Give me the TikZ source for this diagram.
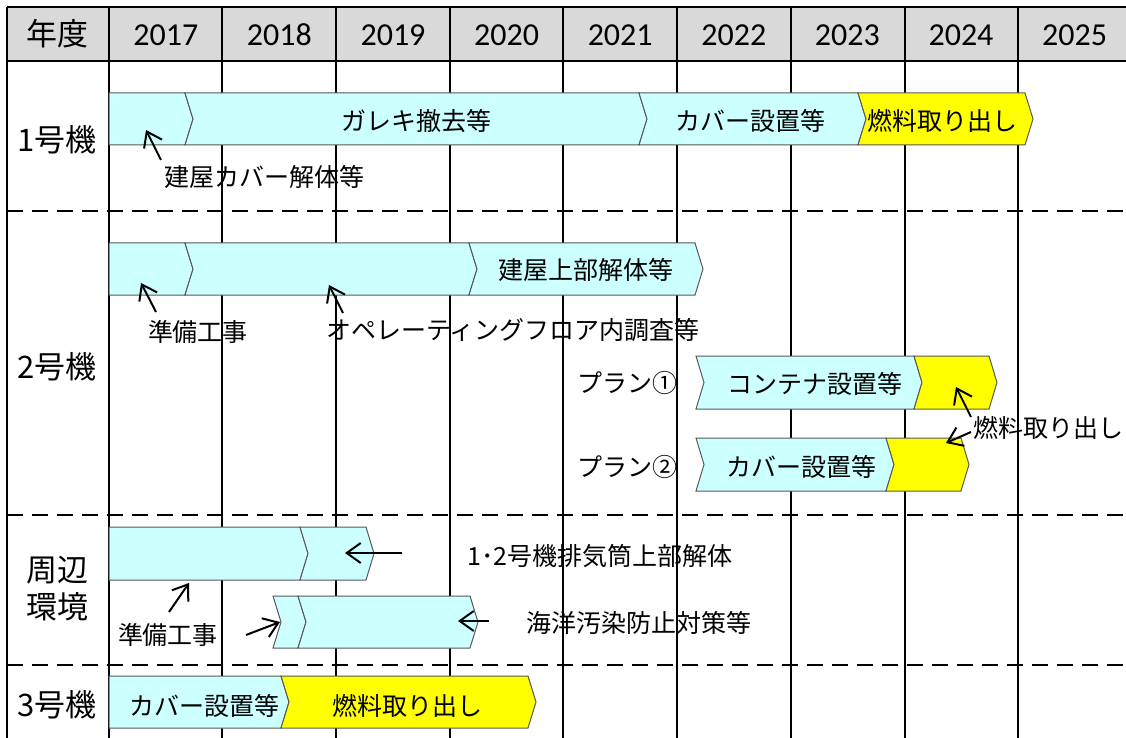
\documentclass[tikz,border=0pt]{standalone}
\usepackage{fontspec}
\setmainfont{Noto Sans CJK JP}
\newfontfamily\yearfont{Carlito}
\usetikzlibrary{arrows.meta}
\definecolor{barcyan}{HTML}{CCFFFF}
\definecolor{baryellow}{HTML}{FFFF00}
\definecolor{headgray}{HTML}{D9D9D9}
\tikzset{
  segline/.style={draw=black!65,line width=0.5pt},
  gridline/.style={line width=1.3pt},
  rowsep/.style={line width=1.3pt,dash pattern=on 8pt off 4.5pt},
  pointer/.style={-{Straight Barb[length=7pt,width=10pt]},line width=1pt},
  bartext/.style={font=\fontsize{12.5}{15}\selectfont,inner sep=0pt},
  rowlabel/.style={font=\fontsize{15.5}{18.5}\selectfont,inner sep=0pt,align=center}
}
\newcommand\chevseg[6]{\filldraw[segline,fill=#5] (#1,#3) -- (#2,#3) -- ({#2+8},{(#3+#4)/2}) -- (#2,#4) -- (#1,#4) -- ({#1+#6},{(#3+#4)/2}) -- cycle;}
\begin{document}
\begin{tikzpicture}[x=0.5pt,y=-0.5pt]
                \useasboundingbox (0,0) rectangle (1126,738);
                \fill[headgray] (7,7) rectangle (1126,61);
                \draw[gridline] (7,7) -- (1126,7) (7,61) -- (1126,61);
                \foreach \xx in {7,109,222,336,450,563,677,791,905,1018}
                    \draw[gridline] (\xx,7) -- (\xx,738);
                \foreach \yy in {211,515,665}
                    \draw[rowsep] (7,\yy) -- (1126,\yy);
                \node[rowlabel] (head) at (57,34) {年度};
                \foreach \yr [count=\i] in {2017,...,2025}
                    \node[font=\yearfont\fontsize{16}{19}\selectfont] (y\yr) at ({109+113.6*(\i-0.5)},35) {\yr};
                \node[rowlabel] (unit1) at (57,140) {1号機};
                \node[rowlabel] (unit2) at (57,367) {2号機};
                \node[rowlabel] (envr) at (57,589) {周辺\\環境};
                \node[rowlabel] (unit3) at (57,705) {3号機};
                \chevseg{109}{185}{93}{145}{barcyan}{0}
                \chevseg{185}{639}{93}{145}{barcyan}{8}
                \chevseg{639}{858}{93}{145}{barcyan}{8}
                \chevseg{858}{1025}{93}{145}{baryellow}{8}
                \chevseg{109}{185}{243}{295}{barcyan}{0}
                \chevseg{185}{469}{243}{295}{barcyan}{8}
                \chevseg{469}{695}{243}{295}{barcyan}{8}
                \chevseg{696}{914}{356}{409}{barcyan}{8}
                \chevseg{914}{989}{356}{409}{baryellow}{8}
                \chevseg{696}{886}{438}{491}{barcyan}{8}
                \chevseg{886}{961}{438}{491}{baryellow}{8}
                \chevseg{109}{300}{527}{580}{barcyan}{0}
                \chevseg{300}{366}{527}{580}{barcyan}{8}
                \chevseg{273}{298}{596}{648}{barcyan}{8}
                \chevseg{298}{470}{596}{648}{barcyan}{8}
                \chevseg{109}{281}{676}{728}{barcyan}{0}
                \chevseg{281}{528}{676}{728}{baryellow}{8}
                \node[bartext] (debris1) at (416,121) {ガレキ撤去等};
                \node[bartext] (cover1) at (750,121) {カバー設置等};
                \node[bartext] (fuel1) at (942,121) {燃料取り出し};
                \node[bartext] (dism1) at (264,177) {建屋カバー解体等};
                \node[bartext] (dism2) at (586,270) {建屋上部解体等};
                \node[bartext] (prep2) at (198,332) {準備工事};
                \node[bartext] (floor2) at (513,330) {オペレーティングフロア内調査等};
                \node[bartext] (plan1) at (627,383) {プラン①};
                \node[bartext] (plan2) at (627,467) {プラン②};
                \node[bartext] (cont2) at (815,384) {コンテナ設置等};
                \node[bartext] (cover2) at (801,467) {カバー設置等};
                \node[bartext] (fuel2) at (1048,428) {燃料取り出し};
                \node[bartext] (stack) at (600,556) {1･2号機排気筒上部解体};
                \node[bartext] (ocean) at (639,623) {海洋汚染防止対策等};
                \node[bartext] (prep3) at (168,635) {準備工事};
                \node[bartext] (cover3) at (204,706) {カバー設置等};
                \node[bartext] (fuel3) at (407,706) {燃料取り出し};
                \coordinate (a1) at (161,160); \coordinate (b1) at (146,130);
                \coordinate (a2) at (156,312); \coordinate (b2) at (141,283);
                \coordinate (a3) at (343,313); \coordinate (b3) at (329,285);
                \coordinate (a4) at (971,417); \coordinate (b4) at (956,387);
                \coordinate (a5) at (971,432); \coordinate (b5) at (946,443);
                \coordinate (a6) at (402,553); \coordinate (b6) at (345,553);
                \coordinate (a7) at (489,621); \coordinate (b7) at (458,621);
                \coordinate (a8) at (169,612); \coordinate (b8) at (189,583);
                \coordinate (a9) at (246,635); \coordinate (b9) at (280,622);
                \foreach \k in {1,...,9}
                    \draw[pointer] (a\k) -- (b\k);
            \end{tikzpicture}
\end{document}
